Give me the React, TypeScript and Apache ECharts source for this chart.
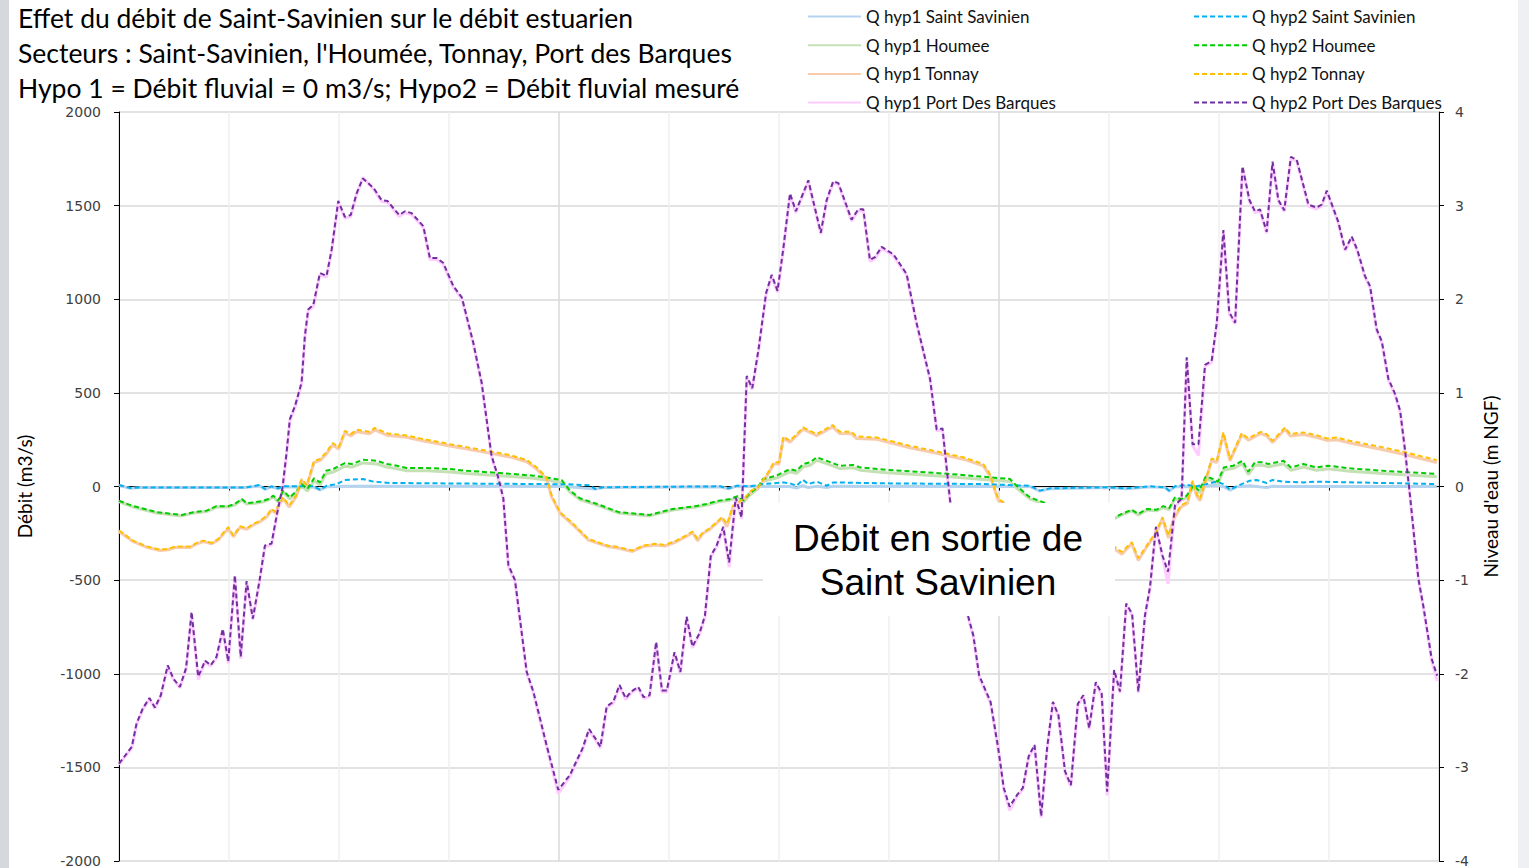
import { useEffect, useRef } from "react";
import * as echarts from "echarts";

// time in hours (3 h per vertical grid line), discharge in m3/s
const titleLines = [
  "Effet du débit de Saint-Savinien sur le débit estuarien",
  "Secteurs : Saint-Savinien, l'Houmée, Tonnay, Port des Barques",
  "Hypo 1 = Débit fluvial = 0 m3/s; Hypo2 = Débit fluvial mesuré",
];
const boxLines = ["Débit en sortie de", "Saint Savinien"];
const hyp1Names = ["Q hyp1 Saint Savinien", "Q hyp1 Houmee", "Q hyp1 Tonnay", "Q hyp1 Port Des Barques"];
const hyp2Names = ["Q hyp2 Saint Savinien", "Q hyp2 Houmee", "Q hyp2 Tonnay", "Q hyp2 Port Des Barques"];
const hyp1Colors = ["#B4D3EF", "#C5E0B4", "#F8CBAD", "#FFCCFF"];
const hyp2Colors = ["#00B0F0", "#00CC00", "#FFC000", "#7030A0"];

const pdbHyp2 = [[0,-1480],[0.35,-1390],[0.48,-1265],[0.65,-1185],[0.83,-1130],[0.98,-1180],[1.14,-1115],[1.33,-955],[1.48,-1025],[1.66,-1070],[1.83,-970],[1.98,-670],[2.16,-1015],[2.35,-930],[2.5,-955],[2.66,-910],[2.83,-760],[2.98,-935],[3.16,-475],[3.32,-910],[3.48,-505],[3.65,-705],[3.83,-505],[3.98,-315],[4.16,-305],[4.3,-155],[4.46,-5],[4.57,180],[4.66,360],[4.8,430],[4.98,555],[5.07,805],[5.16,945],[5.3,970],[5.48,1140],[5.66,1125],[5.8,1265],[5.98,1525],[6.16,1440],[6.32,1450],[6.48,1565],[6.65,1645],[6.94,1595],[7.16,1530],[7.32,1525],[7.64,1450],[7.8,1470],[7.98,1460],[8.3,1390],[8.48,1220],[8.66,1220],[8.84,1195],[9.12,1070],[9.35,1010],[9.66,770],[9.89,555],[10.16,165],[10.34,50],[10.48,-60],[10.62,-420],[10.8,-500],[11.12,-990],[11.3,-1095],[11.66,-1380],[11.98,-1620],[12.3,-1540],[12.49,-1460],[12.64,-1400],[12.82,-1295],[12.99,-1345],[13.13,-1390],[13.3,-1175],[13.48,-1150],[13.65,-1060],[13.82,-1130],[13.97,-1095],[14.16,-1070],[14.31,-1125],[14.47,-1115],[14.65,-830],[14.81,-1090],[14.94,-1090],[15.15,-885],[15.31,-990],[15.48,-695],[15.64,-855],[15.83,-785],[15.98,-690],[16.14,-370],[16.3,-315],[16.48,-215],[16.64,-405],[16.82,-60],[16.98,-165],[17.12,590],[17.27,525],[17.44,730],[17.65,1035],[17.8,1130],[17.96,1045],[18.12,1275],[18.3,1565],[18.46,1470],[18.8,1635],[19.14,1355],[19.3,1530],[19.48,1630],[19.62,1620],[19.98,1425],[20.16,1480],[20.3,1480],[20.48,1210],[20.62,1225],[20.8,1280],[21.12,1240],[21.48,1135],[21.75,875],[22.12,575],[22.3,305],[22.46,310],[22.66,-65],[22.9,-400],[23.14,-680],[23.3,-795],[23.46,-1010],[23.77,-1150],[23.98,-1400],[24.13,-1610],[24.29,-1710],[24.5,-1645],[24.65,-1610],[24.81,-1440],[24.97,-1380],[25.15,-1760],[25.31,-1400],[25.47,-1150],[25.62,-1220],[25.8,-1520],[25.96,-1595],[26.15,-1160],[26.3,-1115],[26.46,-1290],[26.64,-1045],[26.8,-1105],[26.95,-1630],[27.14,-980],[27.3,-1095],[27.47,-625],[27.63,-680],[27.8,-1095],[27.98,-690],[28.12,-535],[28.28,-215],[28.46,-370],[28.61,-455],[28.8,-100],[28.98,-65],[29.12,690],[29.28,225],[29.44,225],[29.62,650],[29.8,670],[29.94,875],[30.12,1370],[30.28,930],[30.44,875],[30.64,1710],[30.83,1530],[30.98,1470],[31.12,1480],[31.3,1360],[31.46,1735],[31.62,1530],[31.78,1475],[31.96,1760],[32.12,1745],[32.44,1505],[32.66,1490],[32.8,1505],[32.94,1580],[33.25,1415],[33.44,1265],[33.62,1335],[33.77,1265],[33.98,1125],[34.12,1070],[34.3,840],[34.44,775],[34.62,575],[34.8,495],[34.94,405],[35.07,200],[35.21,-50],[35.44,-495],[35.57,-635],[35.8,-920],[35.95,-1010]];

const pdbHyp1 = [[0,-1485],[0.35,-1395],[0.48,-1270],[0.65,-1190],[0.83,-1135],[0.98,-1185],[1.14,-1120],[1.33,-960],[1.48,-1030],[1.66,-1075],[1.83,-975],[1.98,-680],[2.16,-1030],[2.35,-935],[2.5,-960],[2.66,-915],[2.83,-770],[2.98,-945],[3.16,-480],[3.32,-920],[3.48,-510],[3.65,-712],[3.83,-512],[3.98,-322],[4.16,-312],[4.3,-162],[4.46,-12],[4.57,172],[4.66,352],[4.8,422],[4.98,548],[5.07,798],[5.16,938],[5.3,962],[5.48,1132],[5.66,1118],[5.8,1258],[5.98,1518],[6.16,1432],[6.32,1442],[6.48,1558],[6.65,1650],[6.94,1588],[7.16,1522],[7.32,1518],[7.64,1442],[7.8,1462],[7.98,1452],[8.3,1382],[8.48,1212],[8.66,1212],[8.84,1188],[9.12,1062],[9.35,1002],[9.66,762],[9.89,548],[10.16,158],[10.34,42],[10.48,-68],[10.62,-428],[10.8,-508],[11.12,-998],[11.3,-1102],[11.66,-1388],[11.98,-1640],[12.3,-1548],[12.49,-1468],[12.64,-1408],[12.82,-1302],[12.99,-1352],[13.13,-1398],[13.3,-1182],[13.48,-1158],[13.65,-1068],[13.82,-1138],[13.97,-1102],[14.16,-1078],[14.31,-1132],[14.47,-1122],[14.65,-838],[14.81,-1098],[14.94,-1098],[15.15,-892],[15.31,-998],[15.48,-702],[15.64,-862],[15.83,-792],[15.98,-698],[16.14,-378],[16.3,-322],[16.48,-222],[16.64,-430],[16.82,-68],[16.98,-172],[17.12,582],[17.27,518],[17.44,722],[17.65,1028],[17.8,1122],[17.96,1038],[18.12,1268],[18.3,1558],[18.46,1462],[18.8,1628],[19.14,1348],[19.3,1522],[19.48,1622],[19.62,1612],[19.98,1418],[20.16,1472],[20.3,1472],[20.48,1202],[20.62,1218],[20.8,1272],[21.12,1232],[21.48,1128],[21.75,868],[22.12,568],[22.3,298],[22.46,302],[22.66,-72],[22.9,-408],[23.14,-688],[23.3,-802],[23.46,-1018],[23.77,-1158],[23.98,-1408],[24.13,-1618],[24.29,-1730],[24.5,-1652],[24.65,-1618],[24.81,-1448],[24.97,-1388],[25.15,-1768],[25.31,-1408],[25.47,-1158],[25.62,-1228],[25.8,-1528],[25.96,-1602],[26.15,-1168],[26.3,-1122],[26.46,-1298],[26.64,-1052],[26.8,-1112],[26.95,-1650],[27.14,-988],[27.3,-1102],[27.47,-632],[27.63,-688],[27.8,-1102],[27.98,-698],[28.12,-542],[28.28,-222],[28.46,-378],[28.61,-520],[28.8,-108],[28.98,-72],[29.12,682],[29.28,218],[29.44,165],[29.62,642],[29.8,662],[29.94,868],[30.12,1362],[30.28,922],[30.44,868],[30.64,1702],[30.83,1522],[30.98,1462],[31.12,1472],[31.3,1352],[31.46,1728],[31.62,1522],[31.78,1468],[31.96,1752],[32.12,1738],[32.44,1498],[32.66,1482],[32.8,1498],[32.94,1572],[33.25,1408],[33.44,1258],[33.62,1328],[33.77,1258],[33.98,1118],[34.12,1062],[34.3,832],[34.44,768],[34.62,568],[34.8,488],[34.94,398],[35.07,192],[35.21,-58],[35.44,-502],[35.57,-642],[35.8,-928],[35.95,-1040]];

const tonHyp2 = [[0,-235],[0.39,-290],[0.76,-320],[1.12,-338],[1.34,-333],[1.53,-321],[1.94,-321],[2.12,-301],[2.3,-289],[2.53,-301],[2.71,-280],[2.86,-244],[2.98,-217],[3.12,-262],[3.3,-212],[3.48,-223],[3.66,-200],[3.85,-182],[4.03,-156],[4.16,-120],[4.28,-137],[4.34,-102],[4.48,-58],[4.64,-102],[4.83,-49],[4.98,40],[5.12,8],[5.32,137],[5.48,146],[5.65,182],[5.83,232],[5.99,209],[6.16,297],[6.32,280],[6.48,303],[6.83,292],[6.98,313],[7.16,297],[7.34,283],[7.8,274],[8.21,257],[9.03,226],[10.03,191],[10.66,168],[11.12,141],[11.39,102],[11.66,49],[11.8,-49],[12.03,-137],[12.39,-200],[12.8,-280],[13.32,-315],[13.63,-324],[14.0,-342],[14.31,-315],[14.63,-306],[14.89,-312],[15.2,-289],[15.46,-262],[15.64,-241],[15.78,-280],[15.93,-244],[16.09,-226],[16.45,-164],[16.58,-200],[16.75,-102],[16.9,-84],[17.08,-58],[17.24,-22],[17.44,0],[17.65,58],[17.86,129],[18.0,129],[18.12,267],[18.3,244],[18.66,315],[19.03,280],[19.46,328],[19.66,292],[19.98,292],[20.11,267],[20.66,262],[21.57,217],[22.21,191],[23.03,156],[23.57,120],[23.75,67],[23.98,-67],[24.2,-93],[24.84,-226],[25.66,-306],[26.48,-333],[27.16,-324],[27.35,-350],[27.62,-297],[27.8,-382],[28.03,-315],[28.28,-244],[28.46,-164],[28.62,-262],[28.77,-164],[28.96,-102],[29.14,-81],[29.28,31],[29.39,-40],[29.48,-67],[29.62,22],[29.8,150],[29.94,137],[30.12,289],[30.3,146],[30.62,285],[30.8,257],[31.14,292],[31.3,280],[31.46,244],[31.8,315],[31.94,280],[32.3,289],[32.66,274],[32.94,257],[33.21,262],[33.57,244],[34.48,209],[35.03,185],[35.94,141]];

const tonHyp1 = [[0,-240],[0.39,-295],[0.76,-325],[1.12,-342],[1.34,-338],[1.53,-326],[1.94,-326],[2.12,-306],[2.3,-294],[2.53,-306],[2.71,-285],[2.86,-250],[2.98,-225],[3.12,-268],[3.3,-218],[3.48,-228],[3.66,-206],[3.85,-188],[4.03,-162],[4.16,-126],[4.28,-143],[4.34,-108],[4.48,-64],[4.64,-110],[4.83,-55],[4.98,32],[5.12,0],[5.32,128],[5.48,138],[5.65,172],[5.83,222],[5.99,200],[6.16,287],[6.32,270],[6.48,292],[6.83,282],[6.98,302],[7.16,286],[7.34,272],[7.8,264],[8.21,247],[9.03,216],[10.03,181],[10.66,158],[11.12,132],[11.39,93],[11.66,40],[11.8,-56],[12.03,-143],[12.39,-206],[12.8,-286],[13.32,-320],[13.63,-330],[14.0,-347],[14.31,-320],[14.63,-312],[14.89,-318],[15.2,-295],[15.46,-268],[15.64,-247],[15.78,-290],[15.93,-250],[16.09,-232],[16.45,-170],[16.58,-215],[16.75,-108],[16.9,-90],[17.08,-64],[17.24,-28],[17.44,-6],[17.65,50],[17.86,120],[18.0,120],[18.12,258],[18.3,236],[18.66,306],[19.03,271],[19.46,318],[19.66,283],[19.98,282],[20.11,257],[20.66,252],[21.57,207],[22.21,181],[23.03,146],[23.57,110],[23.75,58],[23.98,-74],[24.2,-100],[24.84,-232],[25.66,-312],[26.48,-340],[27.16,-335],[27.35,-362],[27.62,-305],[27.8,-395],[28.03,-322],[28.28,-252],[28.46,-172],[28.62,-275],[28.77,-172],[28.96,-110],[29.14,-90],[29.28,22],[29.39,-50],[29.48,-76],[29.62,14],[29.8,140],[29.94,128],[30.12,280],[30.3,137],[30.62,276],[30.8,248],[31.14,283],[31.3,271],[31.46,235],[31.8,306],[31.94,270],[32.3,278],[32.66,263],[32.94,246],[33.21,250],[33.57,232],[34.48,196],[35.03,172],[35.94,128]];

const houHyp2 = [[0,-76],[0.39,-105],[1.03,-137],[1.71,-152],[2.03,-137],[2.39,-129],[2.66,-105],[2.98,-105],[3.16,-93],[3.35,-67],[3.48,-89],[3.71,-84],[3.94,-76],[4.07,-67],[4.21,-49],[4.34,-76],[4.48,-22],[4.66,-58],[4.85,-22],[4.98,13],[5.14,-13],[5.32,44],[5.48,22],[5.65,84],[5.84,93],[6.16,125],[6.35,120],[6.66,143],[7.03,137],[7.3,120],[7.48,115],[7.85,99],[8.39,99],[9.03,93],[9.48,84],[10.39,72],[11.3,58],[11.75,45],[12.07,35],[12.3,-22],[12.57,-63],[13.12,-99],[13.63,-137],[14.47,-152],[15.1,-120],[15.72,-105],[16.03,-93],[16.35,-76],[16.66,-67],[16.87,-52],[17.03,-76],[17.19,-40],[17.44,0],[17.56,40],[17.93,58],[18.3,93],[18.48,84],[18.66,120],[18.85,129],[19.03,156],[19.3,137],[19.66,111],[20.03,115],[20.21,102],[20.94,89],[21.75,79],[22.66,67],[23.57,52],[24.3,40],[24.48,4],[24.84,-58],[25.33,-93],[26.21,-146],[27.16,-164],[27.35,-146],[27.62,-124],[27.8,-146],[28.03,-120],[28.3,-124],[28.48,-105],[28.64,-116],[28.8,-58],[28.98,-67],[29.12,-49],[29.3,4],[29.46,-22],[29.64,54],[29.84,40],[29.97,26],[30.13,102],[30.39,111],[30.64,137],[30.8,79],[30.98,129],[31.16,129],[31.35,120],[31.76,137],[31.96,102],[32.3,120],[32.66,102],[32.98,111],[33.57,97],[34.48,84],[35.94,67]];

const houHyp1 = [[0,-80],[0.39,-110],[1.03,-142],[1.71,-157],[2.03,-142],[2.39,-134],[2.66,-110],[2.98,-110],[3.16,-98],[3.35,-72],[3.48,-94],[3.71,-89],[3.94,-81],[4.07,-72],[4.21,-55],[4.34,-82],[4.48,-30],[4.66,-66],[4.85,-30],[4.98,2],[5.14,-24],[5.32,30],[5.48,8],[5.65,68],[5.84,77],[6.16,108],[6.35,104],[6.66,126],[7.03,120],[7.3,104],[7.48,99],[7.85,84],[8.39,84],[9.03,78],[9.48,69],[10.39,58],[11.3,44],[11.75,32],[12.07,20],[12.3,-30],[12.57,-70],[13.12,-105],[13.63,-142],[14.47,-157],[15.1,-126],[15.72,-110],[16.03,-99],[16.35,-82],[16.66,-73],[16.87,-60],[17.03,-84],[17.19,-48],[17.44,-10],[17.56,28],[17.93,45],[18.3,79],[18.48,70],[18.66,105],[18.85,113],[19.03,140],[19.3,122],[19.66,96],[20.03,100],[20.21,87],[20.94,74],[21.75,64],[22.66,52],[23.57,38],[24.3,27],[24.48,-8],[24.84,-66],[25.33,-100],[26.21,-152],[27.16,-170],[27.35,-152],[27.62,-130],[27.8,-152],[28.03,-126],[28.3,-130],[28.48,-112],[28.64,-123],[28.8,-66],[28.98,-75],[29.12,-58],[29.3,-6],[29.46,-32],[29.64,42],[29.84,28],[29.97,14],[30.13,88],[30.39,97],[30.64,122],[30.8,64],[30.98,114],[31.16,114],[31.35,105],[31.76,121],[31.96,87],[32.3,104],[32.66,87],[32.98,95],[33.57,82],[34.48,69],[35.94,52]];

const ssHyp2 = [[0,8],[0.3,-8],[0.57,-5],[3.46,-5],[3.83,8],[3.98,-13],[4.16,1],[4.34,-10],[4.48,1],[5.3,1],[5.48,-17],[5.66,4],[5.94,13],[6.16,35],[6.66,40],[6.94,26],[7.39,19],[8.57,17],[12.21,12],[12.84,6],[12.98,-13],[13.21,-4],[16.39,1],[16.62,-10],[16.85,4],[17.21,1],[17.57,13],[18.12,22],[18.3,17],[18.48,4],[18.65,36],[18.8,13],[19.03,26],[19.3,4],[19.48,22],[20.84,17],[23.57,13],[24.84,4],[25.11,-22],[25.39,-10],[26.94,-4],[27.48,-10],[28.12,1],[28.53,-4],[28.64,-22],[28.8,1],[29.12,8],[29.39,1],[29.66,13],[29.94,26],[30.12,13],[30.3,-17],[30.48,1],[30.84,31],[31.02,35],[31.3,19],[31.46,35],[31.75,26],[32.3,22],[32.66,26],[35.94,13]];

const ssHyp1 = [[0,6],[0.3,-10],[0.57,-6],[3.46,-6],[3.83,4],[3.98,-15],[4.16,-2],[4.34,-12],[4.48,-3],[5.3,-3],[5.48,-18],[5.66,-2],[5.94,0],[6.16,2],[8.57,2],[12.21,0],[12.98,-14],[13.21,-5],[16.39,-1],[16.62,-12],[16.85,2],[17.57,0],[18.3,0],[18.48,-8],[18.65,5],[18.8,-6],[19.03,2],[19.3,-5],[19.48,2],[24.84,0],[25.11,-24],[25.39,-12],[26.94,-6],[27.48,-12],[28.12,-2],[28.53,-6],[28.64,-24],[28.8,-2],[29.39,-2],[29.66,4],[29.94,6],[30.12,0],[30.3,-20],[30.48,-2],[30.84,4],[31.3,-6],[31.46,2],[31.75,0],[35.94,0]];

const hyp1Data = [ssHyp1, houHyp1, tonHyp1, pdbHyp1];
const hyp2Data = [ssHyp2, houHyp2, tonHyp2, pdbHyp2];

const App = () => {
  const ref = useRef<HTMLDivElement>(null);
  useEffect(() => {
    const chart = echarts.init(ref.current!, null, { renderer: "svg" });
    const hyp1Series = hyp1Names.map((name, i) => ({
      name,
      type: "line",
      data: hyp1Data[i],
      symbol: "none",
      showSymbol: false,
      z: 2,
      lineStyle: { width: 3, color: hyp1Colors[i] },
      itemStyle: { color: hyp1Colors[i] },
    }));
    const hyp2Series = hyp2Names.map((name, i) => ({
      name,
      type: "line",
      data: hyp2Data[i],
      symbol: "none",
      showSymbol: false,
      z: 3,
      lineStyle: { width: 2, color: hyp2Colors[i], type: [5, 3] },
      itemStyle: { color: hyp2Colors[i] },
    }));
    const legendBase = {
      orient: "vertical",
      top: 8,
      padding: 0,
      itemWidth: 53,
      itemHeight: 14,
      itemGap: 11.7,
      selectedMode: false,
      itemStyle: { opacity: 0 },
      textStyle: { fontFamily: "Lato", fontSize: 17, lineHeight: 17, color: "#111" },
    };
    const plain = (v: number) => String(v);
    chart.setOption({
      animation: false,
      backgroundColor: "#ffffff",
      title: {
        text: titleLines.join("\n"),
        left: 18,
        top: 0,
        padding: 0,
        textStyle: { fontFamily: "Lato", fontSize: 26.5, fontWeight: "normal", lineHeight: 35, color: "#000" },
      },
      legend: [
        { ...legendBase, left: 807, data: hyp1Names },
        { ...legendBase, left: 1193, data: hyp2Names },
      ],
      grid: { left: 119, right: 90, top: 112, bottom: 5, containLabel: false },
      xAxis: {
        type: "value",
        min: 0,
        max: 36,
        interval: 3,
        axisLine: { show: true, onZero: true, lineStyle: { color: "#000", width: 1 } },
        axisTick: { show: true, length: 4, lineStyle: { color: "#000" } },
        axisLabel: { show: false },
        splitLine: { show: true, lineStyle: { color: ["#D9D9D9", "#EFEFEF", "#EFEFEF", "#EFEFEF"], width: 1.5 } },
      },
      yAxis: [
        {
          type: "value",
          min: -2000,
          max: 2000,
          interval: 500,
          name: "Débit (m3/s)",
          nameLocation: "middle",
          nameRotate: 90,
          nameGap: 85,
          nameTextStyle: { fontFamily: "Lato", fontSize: 19, color: "#000" },
          axisLine: { show: true, lineStyle: { color: "#000", width: 1 } },
          axisTick: { show: true, length: 5, lineStyle: { color: "#000" } },
          axisLabel: { margin: 18, fontFamily: "DejaVu Sans", fontSize: 14, color: "#404040", formatter: plain },
          splitLine: { show: true, lineStyle: { color: "#D9D9D9", width: 1.5 } },
        },
        {
          type: "value",
          position: "right",
          min: -4,
          max: 4,
          interval: 1,
          name: "Niveau d'eau (m NGF)",
          nameLocation: "middle",
          nameRotate: 90,
          nameGap: 42,
          nameTextStyle: { fontFamily: "Lato", fontSize: 19, color: "#000" },
          axisLine: { show: true, lineStyle: { color: "#000", width: 1 } },
          axisTick: { show: true, length: 5, lineStyle: { color: "#000" } },
          axisLabel: { margin: 16, fontFamily: "DejaVu Sans", fontSize: 14, color: "#404040", formatter: plain },
          splitLine: { show: false },
        },
      ],
      graphic: [
        { type: "rect", z: 100, shape: { x: 0, y: 0, width: 9, height: 868 }, style: { fill: "#D5D8DD" } },
        { type: "rect", z: 100, shape: { x: 1518, y: 0, width: 11, height: 868 }, style: { fill: "#EEF0F4" } },
        { type: "rect", z: 100, shape: { x: 763, y: 503, width: 352, height: 113 }, style: { fill: "#FFFFFF" } },
        {
          type: "text",
          z: 101,
          x: 938,
          y: 560,
          style: {
            text: boxLines.join("\n"),
            fontFamily: "Liberation Sans",
            fontSize: 37,
            lineHeight: 44,
            fill: "#000",
            align: "center",
            verticalAlign: "middle",
            textAlign: "center",
            textVerticalAlign: "middle",
          },
        },
      ],
      series: [...hyp1Series, ...hyp2Series],
    });
    return () => chart.dispose();
  }, []);
  return (
    <div
      ref={ref}
      style={{ position: "fixed", left: 0, top: 0, width: 1529, height: 868, background: "#fff" }}
    />
  );
};

export default App;
